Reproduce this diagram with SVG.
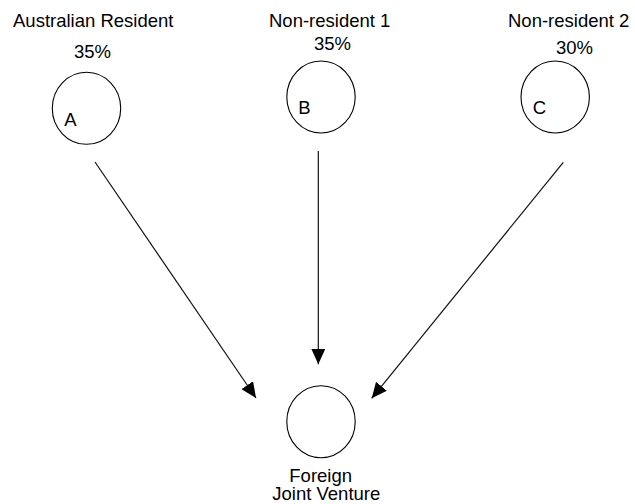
<svg xmlns="http://www.w3.org/2000/svg" width="635" height="504" viewBox="0 0 635 504">
<style>
text{font-family:"Liberation Sans",Arial,sans-serif;font-size:18.5px;fill:#000}
.c{fill:none;stroke:#000;stroke-width:1.1}
.l{stroke:#111;stroke-width:1.2;fill:none}
</style>
<defs>
<marker id="ah" markerUnits="userSpaceOnUse" markerWidth="16" markerHeight="14" refX="15.5" refY="7" orient="auto">
<path d="M0,0 L15.5,7 L0,14 z" fill="#000"/>
</marker>
</defs>
<rect width="635" height="504" fill="#fff"/>
<g id="nodeA">
<ellipse class="c" cx="86.5" cy="108.3" rx="34.2" ry="36"/>
<text x="13" y="27">Australian Resident</text>
<text x="74" y="58">35%</text>
<text x="64.3" y="126">A</text>
</g>
<g id="nodeB">
<ellipse class="c" cx="321" cy="97" rx="34.2" ry="36"/>
<text x="269" y="27">Non-resident 1</text>
<text x="314" y="50">35%</text>
<text x="298.3" y="114.3">B</text>
</g>
<g id="nodeC">
<ellipse class="c" cx="555.2" cy="97" rx="34.2" ry="36"/>
<text x="508" y="27">Non-resident 2</text>
<text x="556" y="54">30%</text>
<text x="532.7" y="114.3">C</text>
</g>
<g id="nodeJV">
<ellipse class="c" cx="321" cy="421.7" rx="34.2" ry="36"/>
<text x="289.3" y="481.7">Foreign</text>
<text x="272.3" y="500">Joint Venture</text>
</g>
<g id="connectors">
<line class="l" x1="95" y1="162" x2="256" y2="398" marker-end="url(#ah)"/>
<line class="l" x1="318.3" y1="151" x2="318.3" y2="364.3" marker-end="url(#ah)"/>
<line class="l" x1="563.3" y1="162.3" x2="371.7" y2="398.3" marker-end="url(#ah)"/>
</g>
</svg>
